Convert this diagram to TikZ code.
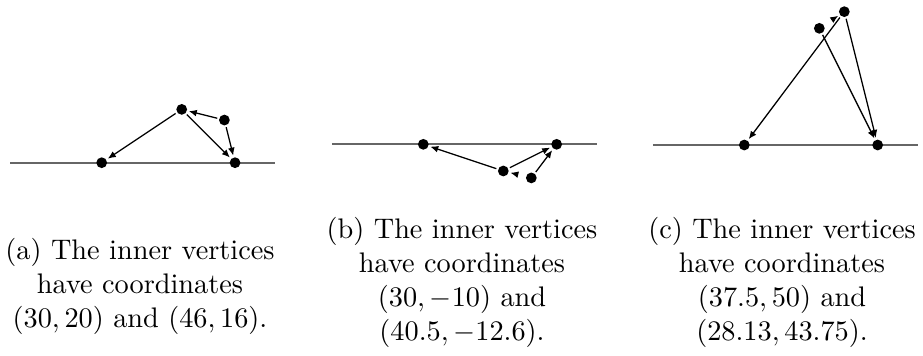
\documentclass[tikz,border=0pt]{standalone}
\usetikzlibrary{arrows.meta}
\begin{document}
\begin{tikzpicture}[x=0.3534pt,y=-0.3534pt,
  vdot/.style={circle,fill=black,inner sep=0pt,minimum size=3.8pt,outer sep=0.7pt},
  arr/.style={-{Latex[length=2.8pt,width=2.4pt]},line width=0.45pt},
  hline/.style={black!60,line width=0.6pt},
  capt/.style={align=center,inner sep=0pt,anchor=north}]
\useasboundingbox (0,0) rectangle (923,355);
% panel (a)
\begin{scope}[shift={(101.7,162.7)},x=0.9425pt,y=0.9425pt]
  \coordinate (aL) at (-34.3,0); \coordinate (aR) at (65,0);
  \draw[hline] (aL) -- (aR);
  \node[vdot] (a0) at (0,0) {};
  \node[vdot] (a1) at (50,0) {};
  \node[vdot] (aA) at (30,20) {};
  \node[vdot] (aB) at (46,16) {};
  \draw[arr] (aA) -- (a0);
  \draw[arr] (aA) -- (a1);
  \draw[arr] (aB) -- (aA);
  \draw[arr] (aB) -- (a1);
\end{scope}
% panel (b)
\begin{scope}[shift={(423.3,144.3)},x=0.9425pt,y=0.9425pt]
  \coordinate (bL) at (-34.3,0); \coordinate (bR) at (65,0);
  \draw[hline] (bL) -- (bR);
  \node[vdot] (b0) at (0,0) {};
  \node[vdot] (b1) at (50,0) {};
  \node[vdot] (bA) at (30,-10) {};
  \node[vdot] (bB) at (40.5,-12.6) {};
  \draw[arr] (bA) -- (b0);
  \draw[arr] (bA) -- (b1);
  \draw[arr] (bB) -- (b1);
  \draw[arr,shorten <=2.3pt] (bB) -- (bA);
\end{scope}
% panel (c)
\begin{scope}[shift={(744.3,145)},x=0.9425pt,y=0.9425pt]
  \coordinate (cL) at (-34.3,0); \coordinate (cR) at (65,0);
  \draw[hline] (cL) -- (cR);
  \node[vdot] (c0) at (0,0) {};
  \node[vdot] (c1) at (50,0) {};
  \node[vdot] (cA) at (37.5,50) {};
  \node[vdot] (cB) at (28.13,43.75) {};
  \draw[arr] (cA) -- (c0);
  \draw[arr] (cA) -- (c1);
  \draw[arr] (cB) -- (c1);
  \draw[arr,shorten <=2.7pt] (cB) -- (cA);
\end{scope}
% captions
\node[capt] (capa) at (140,237.5) {(a) The inner vertices\\ have coordinates\\ $(30,20)$ and $(46,16)$.};
\node[capt] (capb) at (462,217) {(b) The inner vertices\\ have coordinates\\ $(30,-10)$ and\\ $(40.5,-12.6)$.};
\node[capt] (capc) at (782,217) {(c) The inner vertices\\ have coordinates\\ $(37.5,50)$ and\\ $(28.13,43.75)$.};
\end{tikzpicture}
\end{document}
